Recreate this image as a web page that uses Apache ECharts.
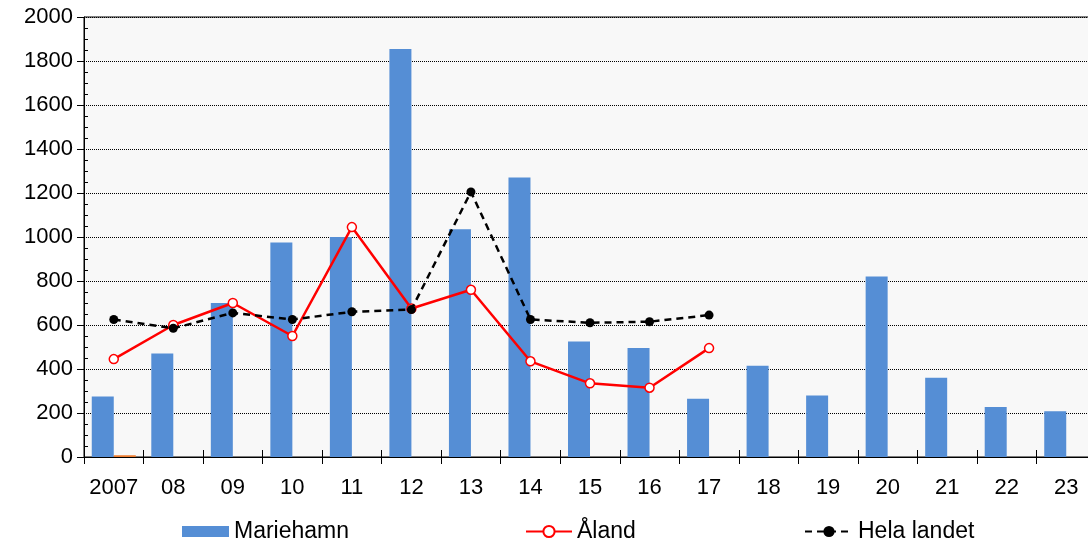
<!DOCTYPE html>
<html>
<head>
<meta charset="utf-8">
<script src="https://cdn.jsdelivr.net/npm/echarts@6/dist/echarts.min.js"></script>
<style>html,body{margin:0;padding:0;background:#fff;overflow:hidden}#c{width:1096px;height:541px}</style>
</head>
<body>
<div id="c"></div>
<script>
var categories = ['2007','08','09','10','11','12','13','14','15','16','17','18','19','20','21','22','23'];
var mariehamn = [275,470,700,975,1000,1855,1035,1270,525,495,265,415,280,820,360,227,208];
var extraBar = [8,null,null,null,null,null,null,null,null,null,null,null,null,null,null,null,null];
var aland = [445,600,700,550,1045,675,760,435,335,315,495,null,null,null,null,null,null];
var helaLandet = [625,585,655,625,660,670,1205,625,610,615,645,null,null,null,null,null,null];
var yTicks = {min:0, max:2000, interval:200};

var font = '"Liberation Sans", Arial, sans-serif';
var chart = echarts.init(document.getElementById('c'), null, {renderer:'canvas', width:1096, height:541});
var legendText = {fontFamily:font, fontSize:23, color:'#000'};
chart.setOption({
  backgroundColor:'#fff',
  animation:false,
  grid:{left:84, right:0, top:17, bottom:84, show:true, backgroundColor:'#f8f8f8', borderColor:'#000', borderWidth:1},
  legend:[
    {data:['Mariehamn'], left:177, top:515, itemWidth:47, itemHeight:11, textStyle:legendText, icon:'rect'},
    {data:['Åland'], left:520, top:515, itemWidth:46, itemHeight:14, textStyle:legendText},
    {data:['Hela landet'], left:799, top:515, itemWidth:48, itemHeight:14, textStyle:legendText}
  ],
  xAxis:[
    {type:'category', data:categories, position:'bottom',
     axisLine:{lineStyle:{color:'#000', width:1}},
     axisTick:{show:true, length:7, lineStyle:{color:'#000'}},
     axisLabel:{fontFamily:font, fontSize:22, color:'#000', margin:20, interval:0}},
    {type:'category', data:categories, position:'bottom', gridIndex:0,
     axisLine:{show:false}, axisLabel:{show:false},
     axisTick:{show:true, inside:true, length:7, lineStyle:{color:'#000'}}}
  ],
  yAxis:[
    {type:'value', min:yTicks.min, max:yTicks.max, interval:yTicks.interval, position:'left',
     axisLine:{show:true, lineStyle:{color:'#000', width:1}},
     axisTick:{show:true, length:7, lineStyle:{color:'#000'}},
     axisLabel:{fontFamily:font, fontSize:22, color:'#000', margin:11, formatter:function(v){return String(v);}},
     splitLine:{show:true, lineStyle:{color:'#000', type:'dotted', width:1}}},
    {type:'value', min:yTicks.min, max:yTicks.max, interval:yTicks.interval, position:'left',
     axisLine:{show:false}, axisLabel:{show:false}, splitLine:{show:false},
     axisTick:{show:false, inside:true},
     minorTick:{show:true, splitNumber:4, length:4, lineStyle:{color:'#000'}}}
  ],
  series:[
    {name:'Mariehamn', type:'bar', data:mariehamn, barWidth:22, barGap:'0%',
     itemStyle:{color:'#558ed5'}},
    {name:'extra', type:'bar', data:extraBar, barWidth:22, barGap:'0%',
     itemStyle:{color:'#ed7d31'}},
    {name:'Åland', type:'line', data:aland, symbol:'circle', symbolSize:9, z:3,
     lineStyle:{color:'#ff0000', width:2.5},
     itemStyle:{color:'#fff', borderColor:'#ff0000', borderWidth:1.5}},
    {name:'Hela landet', type:'line', data:helaLandet, symbol:'circle', symbolSize:9, z:4,
     lineStyle:{color:'#000', width:2.5, type:[7,5]},
     itemStyle:{color:'#000', borderColor:'#000', borderWidth:0}}
  ]
});
</script>
</body>
</html>
